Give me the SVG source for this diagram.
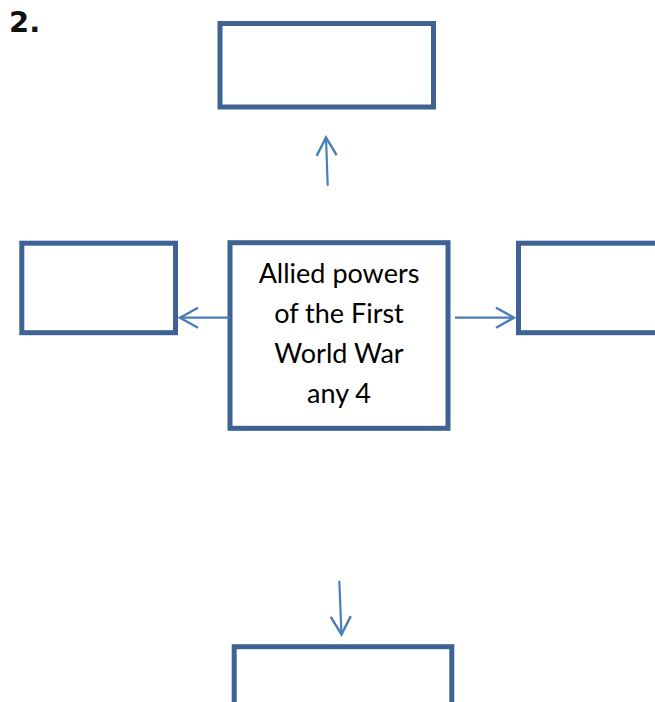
<svg xmlns="http://www.w3.org/2000/svg" width="655" height="702" viewBox="0 0 655 702">
  <style>
    .box { fill: #ffffff; stroke: #3d6293; stroke-width: 5; }
    .conn { stroke: #4a7ebb; stroke-width: 2.2; fill: none; }
    .lbl { font-family: Lato, "Open Sans", "Liberation Sans", sans-serif; font-size: 27px; fill: #000000; text-anchor: middle; }
    .num { font-family: "DejaVu Sans", "Liberation Sans", sans-serif; font-weight: bold; font-size: 29px; fill: #111111; }
  </style>
  <defs>
    <marker id="arr" markerUnits="userSpaceOnUse" markerWidth="26" markerHeight="26" viewBox="-22 -13 26 26" refX="0" refY="0" orient="auto">
      <path d="M-18,-10 L0,0 L-18,10" fill="none" stroke="#4a7ebb" stroke-width="2.4"/>
    </marker>
  </defs>
  <rect width="655" height="702" fill="#ffffff"/>
  <text class="num" x="9" y="32">2.</text>

  <g id="node-top">
    <rect class="box" x="220" y="23.5" width="213.5" height="83.5"/>
  </g>
  <g id="node-left">
    <rect class="box" x="21.8" y="243.2" width="153.7" height="89.5"/>
  </g>
  <g id="node-center">
    <rect class="box" x="230" y="242.7" width="218" height="185.6"/>
    <text class="lbl" x="339" y="283">Allied powers</text>
    <text class="lbl" x="339" y="323">of the First</text>
    <text class="lbl" x="339" y="363">World War</text>
    <text class="lbl" x="339" y="403">any 4</text>
  </g>
  <g id="node-right">
    <rect class="box" x="518.5" y="243.2" width="170" height="89.5"/>
  </g>
  <g id="node-bottom">
    <rect class="box" x="234.2" y="646.7" width="217.6" height="80"/>
  </g>

  <g id="connectors">
    <line class="conn" x1="327.7" y1="185.7" x2="326" y2="137.5" marker-end="url(#arr)"/>
    <line class="conn" x1="230" y1="317.7" x2="180" y2="317.7" marker-end="url(#arr)"/>
    <line class="conn" x1="455" y1="317.7" x2="514" y2="317.7" marker-end="url(#arr)"/>
    <line class="conn" x1="339.3" y1="580.7" x2="341.5" y2="634.5" marker-end="url(#arr)"/>
  </g>
</svg>
